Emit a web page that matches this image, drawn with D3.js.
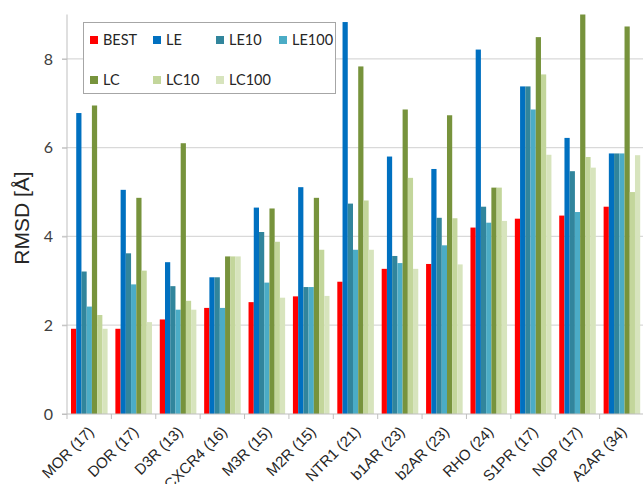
<!DOCTYPE html>
<html>
<head>
<meta charset="utf-8">
<script src="https://cdn.jsdelivr.net/npm/d3@7"></script>
<style>
  html, body { margin: 0; padding: 0; background: #fff; }
  svg { display: block; }
</style>
</head>
<body>
<svg id="chart" width="643" height="484"></svg>
<script>
const categories = ["MOR (17)", "DOR (17)", "D3R (13)", "CXCR4 (16)", "M3R (15)", "M2R (15)", "NTR1 (21)", "b1AR (23)", "b2AR (23)", "RHO (24)", "S1PR (17)", "NOP (17)", "A2AR (34)"];
const seriesNames = ["BEST", "LE", "LE10", "LE100", "LC", "LC10", "LC100"];
const BEST  = [1.92, 1.92, 2.13, 2.39, 2.52, 2.65, 2.98, 3.27, 3.38, 4.20, 4.40, 4.47, 4.67];
const LE    = [6.78, 5.05, 3.42, 3.08, 4.65, 5.11, 8.83, 5.80, 5.52, 8.21, 7.38, 6.22, 5.87];
const LE10  = [3.21, 3.62, 2.88, 3.08, 4.10, 2.86, 4.74, 3.56, 4.42, 4.67, 7.38, 5.47, 5.87];
const LE100 = [2.42, 2.92, 2.35, 2.39, 2.96, 2.86, 3.70, 3.40, 3.80, 4.31, 6.86, 4.55, 5.87];
const LC    = [6.95, 4.87, 6.10, 3.55, 4.63, 4.87, 7.83, 6.86, 6.73, 5.10, 8.49, 9.00, 8.73];
const LC10  = [2.23, 3.23, 2.55, 3.55, 3.88, 3.70, 4.81, 5.32, 4.41, 5.10, 7.65, 5.79, 5.00];
const LC100 = [1.92, 2.07, 2.35, 3.55, 2.62, 2.66, 3.70, 3.27, 3.37, 4.35, 5.84, 5.55, 5.83];
const yTicks = [0, 2, 4, 6, 8];
const colors = ["#ff0000", "#0070c0", "#31859c", "#4bacc6", "#77933c", "#c3d69b", "#d7e4bd"];
const seriesValues = [BEST, LE, LE10, LE100, LC, LC10, LC100];

const svg = d3.select("#chart");
const mLeft = 67, mRight = 644, mTop = 14.5, mBottom = 414;

const x0 = d3.scaleBand().domain(categories).range([mLeft, mRight]).padding(0);
const x1 = d3.scaleBand().domain(seriesNames).range([4, x0.bandwidth() - 3.8]).padding(0);
const y = d3.scaleLinear().domain([0, 9]).range([mBottom, mTop]);
const color = d3.scaleOrdinal().domain(seriesNames).range(colors);

// gridlines
svg.append("g").selectAll("line").data(yTicks.filter(d => d > 0)).join("line")
  .attr("x1", mLeft - 5).attr("x2", mRight)
  .attr("y1", d => y(d)).attr("y2", d => y(d))
  .attr("stroke", "#d9d9d9").attr("stroke-width", 1.2);

// y axis
const yAxis = d3.axisLeft(y).tickValues(yTicks).tickSize(5).tickPadding(9).tickFormat(d3.format("d"));
const gy = svg.append("g").attr("transform", `translate(${mLeft},0)`).call(yAxis);
gy.select(".domain").attr("stroke", "#bfbfbf").attr("d", `M-5,${y(0)}H0V${mTop}`);
gy.selectAll(".tick line").attr("stroke", "#bfbfbf");
gy.selectAll(".tick text").attr("font-family", "Lato, 'Open Sans', sans-serif").attr("font-size", 16).attr("fill", "#404040");

// bars
const groups = svg.append("g").selectAll("g").data(categories).join("g")
  .attr("transform", d => `translate(${x0(d)},0)`);
groups.selectAll("rect").data((c, i) => seriesNames.map((s, j) => ({ s, v: seriesValues[j][i] }))).join("rect")
  .attr("x", d => x1(d.s))
  .attr("width", x1.bandwidth())
  .attr("y", d => y(Math.min(d.v, 9)))
  .attr("height", d => y(0) - y(Math.min(d.v, 9)))
  .attr("fill", d => color(d.s));

// x axis
const gx = svg.append("g").attr("transform", `translate(0,${mBottom})`);
gx.append("line").attr("x1", mLeft).attr("x2", mRight).attr("y1", 0).attr("y2", 0).attr("stroke", "#bfbfbf");
gx.selectAll("line.tk").data(categories).join("line").attr("class", "tk")
  .attr("x1", d => x0(d)).attr("x2", d => x0(d)).attr("y1", 0).attr("y2", 5).attr("stroke", "#bfbfbf");
gx.selectAll("text").data(categories).join("text")
  .attr("transform", d => `translate(${x0(d) + x0.bandwidth() / 2 + 2},${15}) rotate(-45)`)
  .attr("text-anchor", "end")
  .attr("dy", "0.35em")
  .attr("font-family", "Arial, 'Liberation Sans', sans-serif")
  .attr("font-size", 15)
  .attr("fill", "#262626")
  .text(d => d);

// y title
svg.append("text")
  .attr("transform", `translate(28.5,218) rotate(-90)`)
  .attr("text-anchor", "middle")
  .attr("font-family", "Arial, 'Liberation Sans', sans-serif")
  .attr("font-size", 21)
  .attr("fill", "#262626")
  .text("RMSD [Å]");

// legend
const lg = svg.append("g");
lg.append("rect").attr("x", 83.5).attr("y", 22.5).attr("width", 252).attr("height", 71)
  .attr("fill", "#fff").attr("stroke", "#a6a6a6").attr("stroke-width", 1);
const items = lg.selectAll("g.item").data(seriesNames).join("g").attr("class", "item")
  .attr("transform", (d, i) => `translate(${90 + (i % 4) * 63},${i < 4 ? 40 : 80})`);
items.append("rect").attr("x", 0).attr("y", -4).attr("width", 8).attr("height", 8).attr("fill", d => color(d));
items.append("text").attr("x", 13).attr("dy", "0.36em")
  .attr("font-family", "Lato, 'Open Sans', sans-serif").attr("font-size", 14.5).attr("fill", "#262626")
  .text(d => d);
</script>
</body>
</html>
